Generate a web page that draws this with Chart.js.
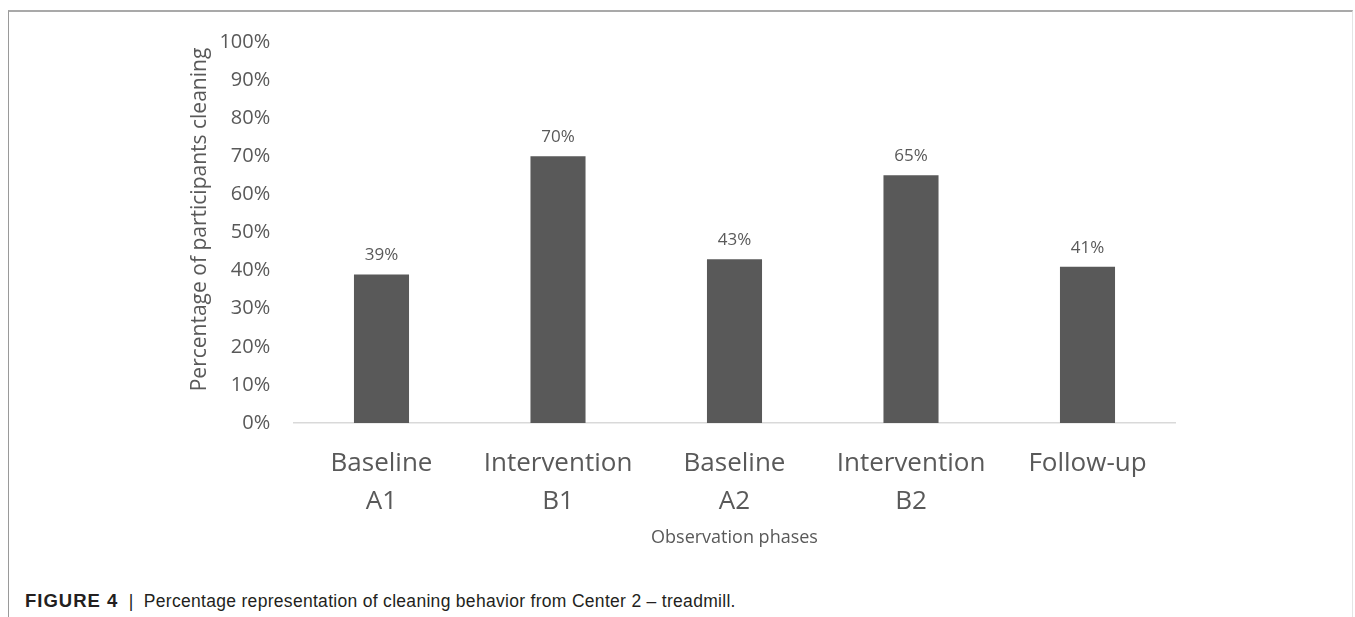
<!DOCTYPE html>
<html>
<head>
<meta charset="utf-8">
<script src="https://cdn.jsdelivr.net/npm/chart.js@4.4.1/dist/chart.umd.min.js"></script>
<style>
  html, body { margin: 0; padding: 0; background: #ffffff; }
  body { width: 1355px; height: 617px; position: relative; overflow: hidden; }
  #frame {
    position: absolute; left: 8px; top: 10px; width: 1345px; height: 620px;
    border-top: 2px solid #a9a9a9; border-left: 1px solid #9a9a9a; border-right: 1px solid #e4e4e4;
    box-sizing: border-box;
  }
  #chartBox { position: absolute; left: 0; top: 0; width: 1355px; height: 560px; }
  #caption {
    position: absolute; left: 25px; top: 591px;
    font-family: "Liberation Sans", Arial, sans-serif;
    font-size: 17.5px; color: #231f20; white-space: nowrap; line-height: 20px;
    letter-spacing: 0.3px;
  }
  #caption b { font-weight: bold; font-size: 18.5px; letter-spacing: 1px; }
</style>
</head>
<body>
<div id="frame"></div>
<div id="chartBox"><canvas id="chart" width="1355" height="560"></canvas></div>
<div id="caption"><b>FIGURE 4</b> &nbsp;|&nbsp; Percentage representation of cleaning behavior from Center 2 – treadmill.</div>
<script>
// Observation phases and share of participants cleaning (%)
const phases = [["Baseline", "A1"], ["Intervention", "B1"], ["Baseline", "A2"], ["Intervention", "B2"], ["Follow-up"]];
const cleaningPct = [39, 70, 43, 65, 41];
const yTicks = [0, 10, 20, 30, 40, 50, 60, 70, 80, 90, 100];

const GREY_TEXT = "#595959";
const FONT = "'Open Sans', 'DejaVu Sans', sans-serif";

// Percent labels above each bar, placed from the bar element's own position
const valueLabels = {
  id: "valueLabels",
  afterDatasetsDraw(chart) {
    const ctx = chart.ctx;
    const meta = chart.getDatasetMeta(0);
    ctx.save();
    ctx.font = "17px " + FONT;
    ctx.fillStyle = GREY_TEXT;
    ctx.textAlign = "center";
    ctx.textBaseline = "middle";
    meta.data.forEach((bar, i) => {
      ctx.fillText(cleaningPct[i] + "%", bar.x, bar.y - 19);
    });
    ctx.restore();
  }
};

// Vertical axis title, centred a little above the plot's midpoint
const yTitle = {
  id: "yTitle",
  afterDraw(chart) {
    const ctx = chart.ctx;
    const area = chart.chartArea;
    ctx.save();
    ctx.translate(200, (area.top + area.bottom) / 2 - 13);
    ctx.rotate(-Math.PI / 2);
    ctx.font = "21px " + FONT;
    ctx.fillStyle = GREY_TEXT;
    ctx.textAlign = "center";
    ctx.textBaseline = "middle";
    ctx.fillText("Percentage of participants cleaning", 0, 0);
    ctx.restore();
  }
};

new Chart(document.getElementById("chart"), {
  type: "bar",
  data: {
    labels: phases,
    datasets: [{
      data: cleaningPct,
      backgroundColor: "#595959",
      borderWidth: 0,
      categoryPercentage: 1,
      barPercentage: 0.312
    }]
  },
  options: {
    responsive: false,
    animation: false,
    events: [],
    layout: { padding: { left: 180, right: 179.25, top: 42, bottom: 0 } },
    plugins: { legend: { display: false }, tooltip: { enabled: false } },
    scales: {
      x: {
        grid: { display: false, drawTicks: false },
        border: { display: true, color: "#d9d9d9", width: 1.5 },
        ticks: {
          color: GREY_TEXT, padding: 21,
          font: { family: FONT, size: 26, lineHeight: 1.48 },
          maxRotation: 0, autoSkip: false
        },
        title: {
          display: true, text: "Observation phases", color: GREY_TEXT,
          font: { family: FONT, size: 18, lineHeight: 1.2 },
          padding: { top: 0, bottom: 11 }
        },
        afterFit(scale) { scale.height = 137; }
      },
      y: {
        min: 0, max: 100,
        afterBuildTicks(scale) { scale.ticks = yTicks.map(v => ({ value: v })); },
        grid: { display: false, drawTicks: false },
        border: { display: false },
        ticks: {
          color: GREY_TEXT, padding: 23,
          font: { family: FONT, size: 20 },
          callback: v => v + "%"
        },
        afterFit(scale) { scale.width = 113.25; }
      }
    }
  },
  plugins: [valueLabels, yTitle]
});
</script>
</body>
</html>
